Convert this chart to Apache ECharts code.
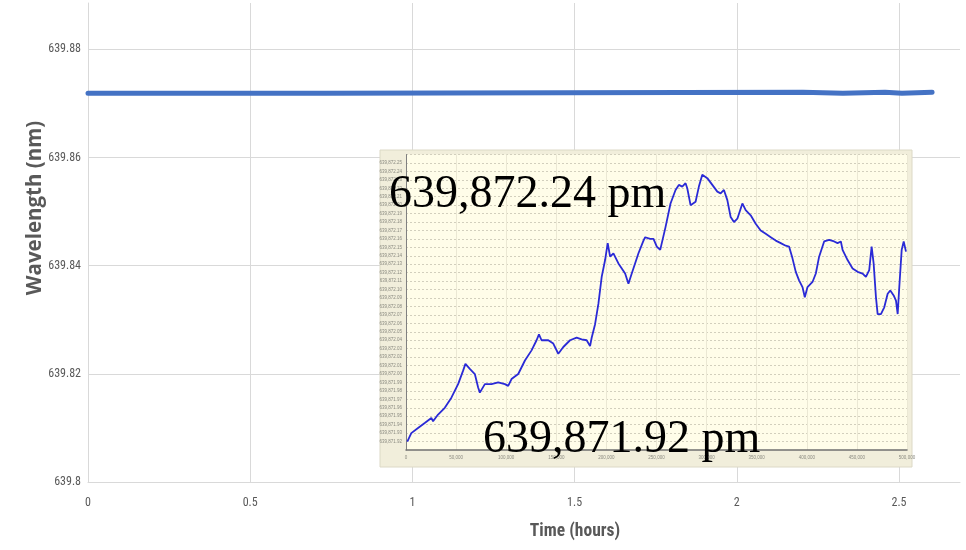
<!DOCTYPE html>
<html><head><meta charset="utf-8">
<script src="https://cdn.jsdelivr.net/npm/echarts@6/dist/echarts.min.js"></script>
<style>html,body{margin:0;padding:0;background:#fff}#c{width:966px;height:550px}</style>
</head><body><div id="c"></div>
<script>
// Main chart data
const mainTime = [0, 0.73, 0.735, 2.204, 2.209, 2.327, 2.332, 2.457, 2.462, 2.509, 2.514, 2.602];
const mainWl = [639.8719, 639.8719, 639.8721, 639.8721, 639.8719, 639.8719, 639.8721, 639.8721, 639.8719, 639.8719, 639.8721, 639.8721];
const mainYTicks = ['639.8', '639.82', '639.84', '639.86', '639.88'];
const mainXTicks = ['0', '0.5', '1', '1.5', '2', '2.5'];
const yTitle = 'Wavelength (nm)';
const xTitle = 'Time (hours)';

// Inset data (sample index vs wavelength in pm)
const insetSample = [1300,5300,12000,18700,25300,27000,32000,38700,45300,52000,57000,59300,63700,68700,72000,73700,78700,85300,92000,98700,102000,105300,112000,118700,125300,130300,132700,135300,142000,147000,152000,157000,163700,170300,175300,180300,183700,185300,188700,192000,195300,198700,201300,203700,207000,212000,218700,222000,225300,232000,237000,238700,243700,247000,250300,253700,259000,264000,269000,272300,275700,279000,280700,284000,285700,289000,292300,295700,300700,305700,310700,314000,317300,320700,324000,327300,330700,335700,339000,344000,349000,354000,359000,364000,369000,374000,379000,382300,385700,389000,392300,395700,398000,400700,405700,409000,412300,417300,422300,427300,430700,434000,435700,440700,445700,450700,455700,459000,462300,464700,466700,469000,470700,474000,477300,480700,483300,486700,489000,490700,492300,494700,496700,499000];
const insetPm = [639871.920,639871.930,639871.936,639871.942,639871.948,639871.944,639871.952,639871.960,639871.972,639871.988,639872.004,639872.012,639872.006,639872.000,639871.984,639871.978,639871.988,639871.988,639871.990,639871.988,639871.986,639871.994,639872.000,639872.016,639872.028,639872.040,639872.047,639872.040,639872.040,639872.036,639872.024,639872.032,639872.040,639872.043,639872.041,639872.040,639872.033,639872.043,639872.059,639872.083,639872.115,639872.135,639872.155,639872.139,639872.143,639872.131,639872.119,639872.107,639872.119,639872.143,639872.158,639872.162,639872.160,639872.160,639872.151,639872.147,639872.174,639872.202,639872.218,639872.224,639872.222,639872.226,639872.220,639872.200,639872.198,639872.204,639872.222,639872.236,639872.232,639872.224,639872.216,639872.214,639872.218,639872.206,639872.186,639872.180,639872.184,639872.202,639872.194,639872.188,639872.178,639872.170,639872.166,639872.162,639872.158,639872.155,639872.152,639872.151,639872.137,639872.121,639872.111,639872.103,639872.091,639872.103,639872.109,639872.119,639872.139,639872.157,639872.159,639872.157,639872.155,639872.157,639872.147,639872.135,639872.125,639872.121,639872.119,639872.115,639872.123,639872.151,639872.131,639872.091,639872.071,639872.071,639872.079,639872.095,639872.099,639872.093,639872.087,639872.071,639872.103,639872.147,639872.157,639872.145];
const insetTopLabel = '639,872.24 pm';
const insetBottomLabel = '639,871.92 pm';

const chart = echarts.init(document.getElementById('c'));
function commas(v) {
  const s = v.toFixed(2);
  const parts = s.split('.');
  return parts[0].replace(/\B(?=(\d{3})+(?!\d))/g, ',') + '.' + parts[1];
}
const gray = '#595959';
const narrow = '"Liberation Sans Narrow", "Roboto Condensed", "DejaVu Sans Condensed", "Open Sans Condensed", Roboto, sans-serif';
chart.setOption({
  animation: false,
  backgroundColor: '#ffffff',
  grid: [
    {left: 88, right: 6, top: 3, bottom: 68},
    {left: 406, right: 59, top: 154.5, bottom: 100, show: true, backgroundColor: '#fffde9', borderWidth: 0, z: 5}
  ],
  xAxis: [
    {type: 'value', gridIndex: 0, min: 0, max: 2.688, interval: 0.5,
     axisLine: {show: true, lineStyle: {color: '#d9d9d9', width: 1}},
     axisTick: {show: false},
     axisLabel: {showMaxLabel: false, color: gray, fontFamily: narrow, fontSize: 12, margin: 15,
       formatter: v => { const i = Math.round(v / 0.5); return mainXTicks[i] !== undefined ? mainXTicks[i] : ''; }},
     splitLine: {show: true, showMaxLine: false, lineStyle: {color: '#d9d9d9', width: 1}}},
    {type: 'value', gridIndex: 1, min: 0, max: 500000, interval: 50000, z: 6,
     axisLine: {show: true, lineStyle: {color: '#707070', width: 1.5}},
     axisTick: {show: false},
     axisLabel: {color: '#8a8a80', fontSize: 4.5, fontFamily: 'Liberation Sans', margin: 5},
     splitLine: {show: true, lineStyle: {color: '#ebe8d4', width: 1}}}
  ],
  yAxis: [
    {type: 'value', gridIndex: 0, min: 639.8, max: 639.8886, interval: 0.02,
     axisLine: {show: true, lineStyle: {color: '#d9d9d9', width: 1}},
     axisTick: {show: false},
     axisLabel: {showMaxLabel: false, color: gray, fontFamily: narrow, fontSize: 12, margin: 7,
       formatter: v => { const i = Math.round((v - 639.8) / 0.02); return mainYTicks[i] !== undefined ? mainYTicks[i] : ''; }},
     splitLine: {show: true, showMaxLine: false, lineStyle: {color: '#d9d9d9', width: 1}}},
    {type: 'value', gridIndex: 1, min: 639871.91, max: 639872.26, interval: 0.01, z: 6,
     axisLine: {show: true, lineStyle: {color: '#808080', width: 1}},
     axisTick: {show: false},
     axisLabel: {color: '#8a8a80', fontSize: 4.5, fontFamily: 'Liberation Sans', margin: 4,
       showMinLabel: false, showMaxLabel: false, formatter: v => commas(v)},
     splitLine: {show: true, showMinLine: false, lineStyle: {color: '#d2cfbd', width: 1, type: [2, 2]}}}
  ],
  series: [
    {type: 'line', xAxisIndex: 0, yAxisIndex: 0, data: mainTime.map((t, i) => [t, mainWl[i]]),
     showSymbol: false, symbol: 'none', lineStyle: {color: '#4472c4', width: 5, cap: 'round'}, z: 3},
    {type: 'line', xAxisIndex: 1, yAxisIndex: 1, data: insetSample.map((s, i) => [s, insetPm[i]]),
     showSymbol: false, symbol: 'none', lineStyle: {color: '#2a2ad6', width: 1.8}, z: 7}
  ],
  graphic: [
    {type: 'rect', shape: {x: 380, y: 150, width: 532, height: 317}, style: {fill: '#f1eedb', stroke: '#dcd9c6', lineWidth: 1}, z: 4, silent: true},
    {type: 'text', x: 389, y: 172, z: 20, style: {text: insetTopLabel, font: '46px "Liberation Serif"', fill: '#000', verticalAlign: 'top'}},
    {type: 'text', x: 483, y: 417, z: 20, style: {text: insetBottomLabel, font: '46px "Liberation Serif"', fill: '#000', verticalAlign: 'top'}},
    {type: 'text', x: 35, y: 208, rotation: Math.PI / 2, z: 20, style: {text: yTitle, font: 'bold 20.5px "Open Sans"', fill: gray, align: 'center', verticalAlign: 'middle'}},
    {type: 'text', x: 575, y: 532, z: 20, style: {text: xTitle, font: 'bold 17.5px ' + narrow, fill: gray, align: 'center', verticalAlign: 'middle'}}
  ]
});
</script>
</body></html>
